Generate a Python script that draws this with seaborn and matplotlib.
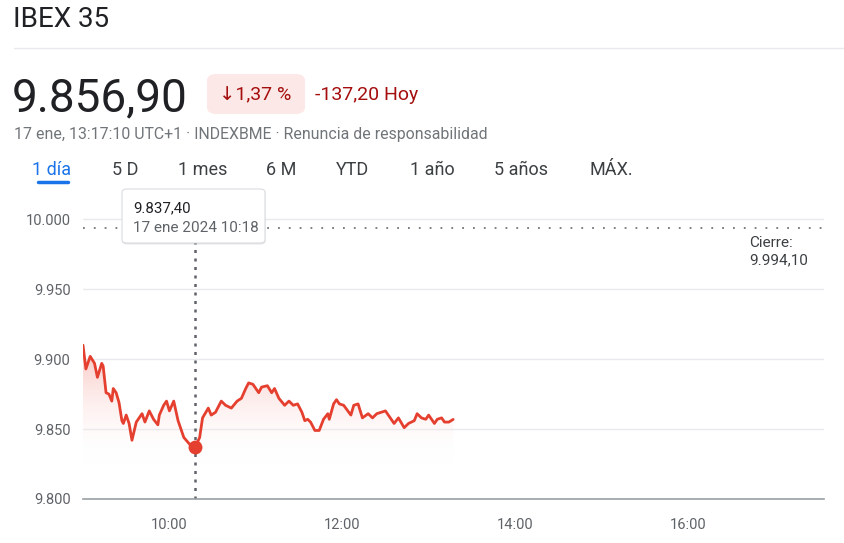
import numpy as np
import pandas as pd
import matplotlib
matplotlib.use("Agg")
import matplotlib.pyplot as plt
from matplotlib.patches import FancyBboxPatch
import seaborn as sns

# intraday IBEX 35, 17 ene 2024
times = ["9:00", "9:02", "9:05", "9:08", "9:10", "9:13", "9:14", "9:16", "9:18", "9:20",
         "9:21", "9:23", "9:25", "9:27", "9:28", "9:30", "9:32", "9:34", "9:37", "9:41",
         "9:43", "9:46", "9:49", "9:52", "9:53", "9:56", "9:58", "10:00", "10:03", "10:06",
         "10:10", "10:15", "10:18", "10:21", "10:23", "10:27", "10:29", "10:32", "10:36", "10:39",
         "10:43", "10:47", "10:50", "10:53", "10:55", "10:58", "11:02", "11:04", "11:08", "11:11",
         "11:13", "11:16", "11:20", "11:23", "11:26", "11:29", "11:32", "11:34", "11:36", "11:38",
         "11:41", "11:44", "11:47", "11:50", "11:51", "11:54", "11:56", "11:58", "12:01", "12:06",
         "12:08", "12:11", "12:14", "12:18", "12:21", "12:24", "12:27", "12:30", "12:32", "12:36",
         "12:39", "12:43", "12:46", "12:50", "12:52", "12:55", "12:58", "13:00", "13:04", "13:06",
         "13:09", "13:11", "13:14", "13:17"]
prices = [9910, 9893, 9902, 9897, 9887, 9897, 9895, 9876, 9875, 9870,
          9879, 9876, 9869, 9856, 9854, 9860, 9854, 9842, 9855, 9861,
          9855, 9863, 9857, 9853, 9860, 9867, 9870, 9863, 9870, 9856,
          9844, 9838, 9837.4, 9844, 9858, 9865, 9860, 9862, 9870, 9867,
          9865, 9870, 9872, 9879, 9883, 9882, 9876, 9880, 9881, 9876,
          9879, 9872, 9867, 9870, 9867, 9868, 9862, 9856, 9857, 9855,
          9849, 9849, 9857, 9861, 9857, 9868, 9871, 9868, 9867, 9860,
          9867, 9868, 9858, 9861, 9858, 9861, 9862, 9863, 9860, 9854,
          9858, 9851, 9854, 9856, 9861, 9858, 9857, 9860, 9854, 9857,
          9858, 9855, 9855, 9856.9]

prev_close = 9994.10
hover_time = "10:18"
hover_price = 9837.40
y_ticks = [9800, 9850, 9900, 9950, 10000]
y_labels = ["9.800", "9.850", "9.900", "9.950", "10.000"]
x_ticks = [10, 12, 14, 16]
x_labels = ["10:00", "12:00", "14:00", "16:00"]
tabs = ["1 día", "5 D", "1 mes", "6 M", "YTD", "1 año", "5 años", "MÁX."]


def to_hours(t):
    h, m = t.split(":")
    return int(h) + int(m) / 60


df = pd.DataFrame({"hora": [to_hours(t) for t in times], "precio": prices})

W, H = 845, 543
RED = "#e5402f"
GREY = "#5f6368"

sns.set_style("white")
plt.rcParams["font.family"] = ["Roboto", "DejaVu Sans"]

fig = plt.figure(figsize=(W / 100, H / 100), dpi=100)


def fx(x):
    return x / W


def fy(y):
    return 1 - y / H


# plot area: 9:00 -> ~17:35, 9.800 -> 10.015
ax = fig.add_axes([fx(83), fy(499), fx(824 - 83), (499 - 198.3) / H])
ax.set_xlim(9.0, 17.575)
ax.set_ylim(9800, 10015)

for v in y_ticks[1:]:
    ax.axhline(v, color="#e8eaed", lw=1, zorder=0)

# gradient fill under the line
base = 9825
poly = ax.fill_between(df["hora"], df["precio"], base, color="none", lw=0)
grad = np.linspace(0, 1, 256).reshape(-1, 1)
cmap = matplotlib.colors.LinearSegmentedColormap.from_list(
    "g", [(1, 1, 1, 0), (0.97, 0.72, 0.70, 0.75)])
img = ax.imshow(grad, cmap=cmap, aspect="auto", origin="lower",
                extent=[9.0, df["hora"].max(), base, 9905], zorder=1)
img.set_clip_path(poly.get_paths()[0], transform=ax.transData)

ax.axhline(prev_close, color="#70757a", lw=1.3, ls=(0, (1, 5)), zorder=2)

sns.lineplot(data=df, x="hora", y="precio", ax=ax, color=RED, lw=2, zorder=3)

hx = to_hours(hover_time)
ax.axvline(hx, ymin=0, ymax=1, color=GREY, lw=1.8, ls=(0, (1.2, 2.2)), zorder=2)
ax.scatter([hx], [hover_price], s=100, color=RED, zorder=4, lw=0)

ax.set_xlabel("")
ax.set_ylabel("")
ax.set_xticks(x_ticks)
ax.set_xticklabels(x_labels)
ax.set_yticks(y_ticks)
ax.set_yticklabels(y_labels)
ax.tick_params(axis="x", length=5, width=1.6, color=GREY, pad=9,
               labelsize=10.5, labelcolor=GREY)
ax.tick_params(axis="y", length=0, pad=9, labelsize=10.5, labelcolor=GREY)
for s in ["top", "right", "left"]:
    ax.spines[s].set_visible(False)
ax.spines["bottom"].set_color("#9aa0a6")
ax.spines["bottom"].set_linewidth(1.2)

ax.text((749 - 83) / (824 - 83), prev_close - 6, "Cierre:\n9.994,10",
        transform=ax.get_yaxis_transform(), ha="left", va="top", fontsize=11,
        color="#3c4043", linespacing=1.3)

# header
fig.text(fx(13), fy(27), "IBEX 35", fontsize=20, color="#202124", va="baseline")
fig.add_artist(plt.Line2D([fx(14), fx(845)], [fy(48), fy(48)],
                          color="#e8eaed", lw=1, transform=fig.transFigure))
fig.text(fx(12), fy(111), "9.856,90", fontsize=33, color="#202124", va="baseline")
fig.add_artist(FancyBboxPatch((fx(207), fy(114)), fx(98), (114 - 74) / H,
                              boxstyle="round,pad=0,rounding_size=0.012",
                              transform=fig.transFigure, fc="#fce8e6", ec="none"))
fig.text(fx(219), fy(100), "↓1,37 %", fontsize=14, color="#a50e0e", va="baseline")
fig.text(fx(315), fy(100), "-137,20 Hoy", fontsize=14, color="#a50e0e", va="baseline")
fig.text(fx(14), fy(139), "17 ene, 13:17:10 UTC+1 · INDEXBME · Renuncia de responsabilidad",
         fontsize=11.4, color="#70757a", va="baseline")

tab_x = [52, 125, 203, 281, 353, 432, 521, 611]
for t, x in zip(tabs, tab_x):
    fig.text(fx(x), fy(175), t, fontsize=13, ha="center", va="baseline",
             color="#1a73e8" if t == "1 día" else "#3c4043")
fig.add_artist(plt.Line2D([fx(38), fx(68)], [fy(182), fy(182)], color="#1a73e8",
                          lw=2.5, solid_capstyle="round", transform=fig.transFigure))

# tooltip
shadow = FancyBboxPatch((fx(122), fy(244.5)), fx(143.5), 54 / H,
                        boxstyle="round,pad=0,rounding_size=0.006",
                        transform=fig.transFigure, fc="#000000", alpha=0.10, ec="none")
fig.add_artist(shadow)
fig.add_artist(FancyBboxPatch((fx(122), fy(243)), fx(143), 54 / H,
                              boxstyle="round,pad=0,rounding_size=0.006",
                              transform=fig.transFigure, fc="white", ec="#dadce0", lw=0.8))
fig.text(fx(133), fy(212), "9.837,40", fontsize=10.8, color="#202124", va="baseline")
fig.text(fx(133), fy(232), "17 ene 2024 10:18", fontsize=11, color=GREY, va="baseline")

fig.savefig("out.png", dpi=100)
